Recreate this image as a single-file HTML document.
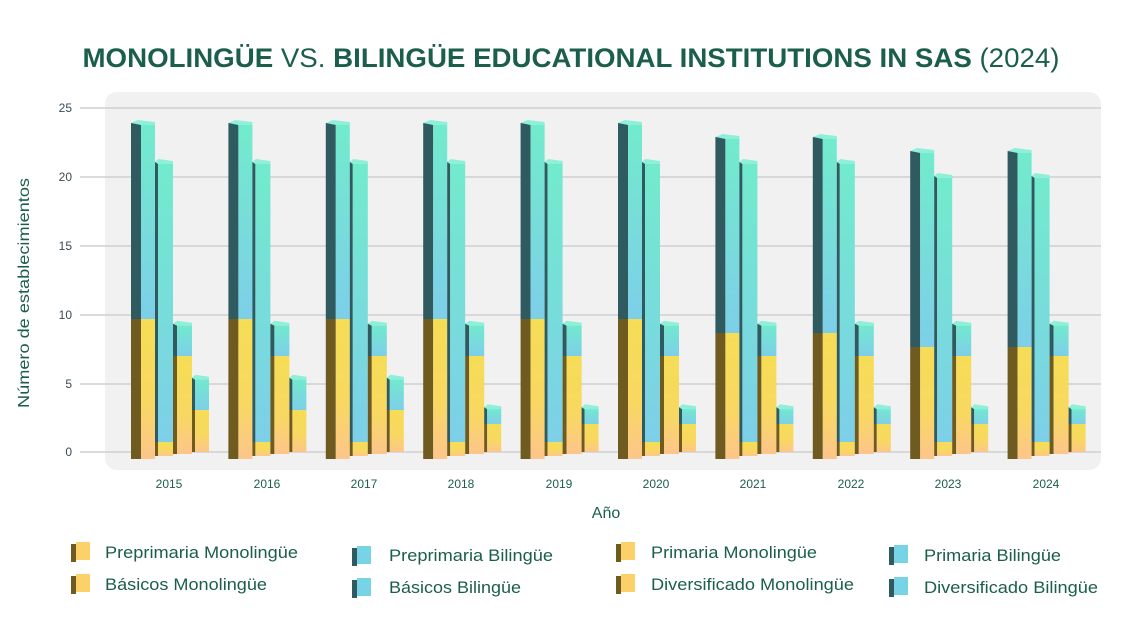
<!DOCTYPE html>
<html><head><meta charset="utf-8"><style>
body{margin:0;background:#fff;}
svg{display:block;font-family:"Liberation Sans",sans-serif;}
</style></head><body>
<svg id="s" width="1143" height="643" viewBox="0 0 1143 643" xmlns="http://www.w3.org/2000/svg">
<defs>
<linearGradient id="gy" x1="0" y1="0" x2="0" y2="1"><stop offset="0" stop-color="#f5dd55"/><stop offset="0.6" stop-color="#f8d862"/><stop offset="1" stop-color="#fdc58b"/></linearGradient>
<linearGradient id="gb" x1="0" y1="0" x2="0" y2="1"><stop offset="0" stop-color="#72ebcc"/><stop offset="1" stop-color="#7dcfe8"/></linearGradient>
</defs>
<text x="571" y="67" text-anchor="middle" font-size="27" fill="#1b5e4c" textLength="977" lengthAdjust="spacingAndGlyphs"><tspan font-weight="bold">MONOLINGÜE</tspan> VS. <tspan font-weight="bold">BILINGÜE EDUCATIONAL INSTITUTIONS IN SAS</tspan> (2024)</text>
<rect x="105" y="92" width="996" height="378" rx="12" fill="#f1f1f1"/>
<g stroke="#cfcfcf" stroke-width="1.5">
<line x1="80" y1="108" x2="1101" y2="108"/><line x1="80" y1="177" x2="1101" y2="177"/>
<line x1="80" y1="246" x2="1101" y2="246"/><line x1="80" y1="315" x2="1101" y2="315"/>
<line x1="80" y1="384" x2="1101" y2="384"/><line x1="80" y1="452" x2="1101" y2="452"/>
</g>
<g font-size="12" fill="#3a4a55" text-anchor="end">
<text x="72" y="112">25</text><text x="72" y="181">20</text><text x="72" y="250">15</text>
<text x="72" y="319">10</text><text x="72" y="388">5</text><text x="72" y="456">0</text>
</g>
<text transform="translate(29,293) rotate(-90)" text-anchor="middle" font-size="16" fill="#1b5e4c" textLength="230" lengthAdjust="spacingAndGlyphs">Número de establecimientos</text>
<g id="bars"></g>
<g font-size="12" fill="#1b5e4c" text-anchor="middle">
<text x="169" y="488">2015</text><text x="267" y="488">2016</text><text x="364" y="488">2017</text>
<text x="461" y="488">2018</text><text x="559" y="488">2019</text><text x="656" y="488">2020</text>
<text x="753" y="488">2021</text><text x="851" y="488">2022</text><text x="948" y="488">2023</text>
<text x="1046" y="488">2024</text>
</g>
<text x="606" y="518" text-anchor="middle" font-size="16" fill="#1b5e4c">Año</text>
<g font-size="17" fill="#1b5e4c">
<text x="105" y="558" textLength="193" lengthAdjust="spacingAndGlyphs">Preprimaria Monolingüe</text>
<text x="105" y="590" textLength="162" lengthAdjust="spacingAndGlyphs">Básicos Monolingüe</text>
<text x="389" y="561" textLength="164" lengthAdjust="spacingAndGlyphs">Preprimaria Bilingüe</text>
<text x="389" y="593" textLength="132" lengthAdjust="spacingAndGlyphs">Básicos Bilingüe</text>
<text x="651" y="558" textLength="166" lengthAdjust="spacingAndGlyphs">Primaria Monolingüe</text>
<text x="651" y="590" textLength="203" lengthAdjust="spacingAndGlyphs">Diversificado Monolingüe</text>
<text x="924" y="561" textLength="137" lengthAdjust="spacingAndGlyphs">Primaria Bilingüe</text>
<text x="924" y="593" textLength="174" lengthAdjust="spacingAndGlyphs">Diversificado Bilingüe</text>
</g>
<g id="leg"></g>
</svg>
<script>
var ns="http://www.w3.org/2000/svg",B=document.getElementById("bars"),L=document.getElementById("leg");
function el(p,t,a){var e=document.createElementNS(ns,t);for(var k in a)e.setAttribute(k,a[k]);p.appendChild(e);return e;}
var u=14;
var data=[];
for(var i=0;i<10;i++){
 var b1=i<6?[10,14]:(i<8?[9,14]:[8,14]);
 var b2=i<8?[1,20]:[1,19];
 var b3=[7,2.3];
 var b4=i<3?[3,2.3]:[2,1.2];
 data.push([b1,b2,b3,b4]);
}
var geo=[[131,10,14,459],[155,3,15,456],[173,4,15,454],[192,3,14,452]];
for(var i=0;i<10;i++){
 var off=i*97.4;
 for(var j=0;j<4;j++){
  var g=geo[j],x=g[0]+off,sw=g[1],fw=g[2],bot=g[3],v=data[i][j];
  var yb=bot-v[0]*u,yt=yb-v[1]*u;
  el(B,"rect",{x:x,y:yb,width:sw,height:bot-yb,fill:"#6f5a1f"});
  el(B,"rect",{x:x,y:yt,width:sw,height:yb-yt,fill:"#2f5a60"});
  el(B,"rect",{x:x+sw,y:yb,width:fw,height:bot-yb,fill:"url(#gy)"});
  el(B,"rect",{x:x+sw,y:yt,width:fw,height:yb-yt,fill:"url(#gb)"});
  el(B,"polygon",{points:(x)+","+(yt)+" "+(x+sw/2+2)+","+(yt-3)+" "+(x+sw+fw)+","+(yt-1)+" "+(x+sw+fw)+","+(yt+2)+" "+(x+sw)+","+(yt+2),fill:"#8ff0da"});
 }
}
function cube(x,y,c,d){el(L,"rect",{x:x,y:y,width:5,height:18,fill:d});el(L,"rect",{x:x+5,y:y-2,width:14,height:18,fill:c});}
cube(71,544,"#fdd169","#6f5a1f");cube(71,576,"#fdd169","#6f5a1f");
cube(616,544,"#fdd169","#6f5a1f");cube(616,576,"#fdd169","#6f5a1f");
cube(352,548,"#77d3e6","#2f5a60");cube(352,580,"#77d3e6","#2f5a60");
cube(889,547,"#77d3e6","#2f5a60");cube(889,579,"#77d3e6","#2f5a60");
</script>
</body></html>
